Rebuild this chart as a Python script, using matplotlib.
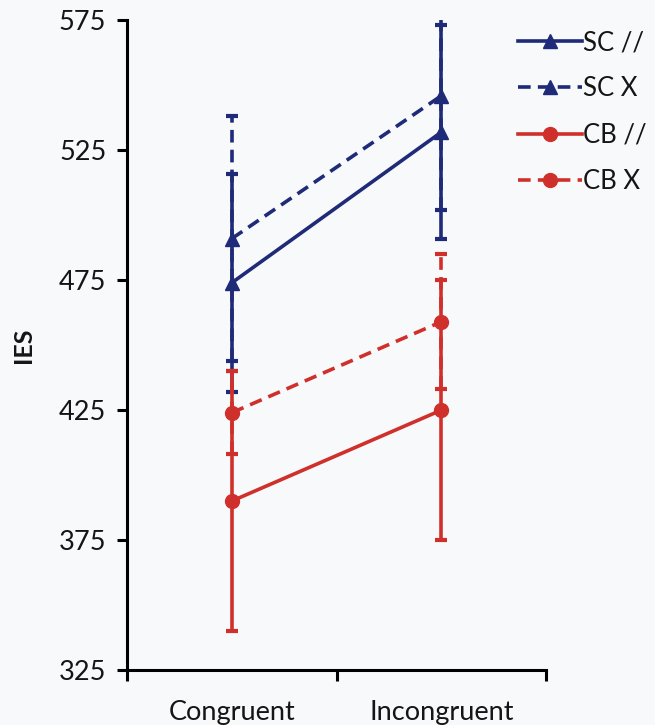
import numpy as np
import matplotlib
matplotlib.use("Agg")
import matplotlib.pyplot as plt

# IES per condition
conditions = ["Congruent", "Incongruent"]
series_names = ["SC //", "SC X", "CB //", "CB X"]
sc_par = [474, 532]
sc_x = [491, 546]
cb_par = [390, 425]
cb_x = [424, 459]
sc_par_err = [42, 41]
sc_x_err = [47, 44]
cb_par_err = [50, 50]
cb_x_err = [16, 26]

NAVY = "#1f2a78"
RED = "#d0302b"
BG = "#f7f9fa"
TXT = "#151515"
DASH = (0, (3.5, 2))

plt.rcParams["font.family"] = ["Lato", "DejaVu Sans"]

fig = plt.figure(figsize=(6.55, 7.25), dpi=100, facecolor=BG)
ax = fig.add_axes([0.194, 0.076, 0.64, 0.896], facecolor=BG)

x = np.array([0.5, 1.5])
styles = [
    (sc_par, sc_par_err, NAVY, "^", "-"),
    (sc_x, sc_x_err, NAVY, "^", DASH),
    (cb_par, cb_par_err, RED, "o", "-"),
    (cb_x, cb_x_err, RED, "o", DASH),
]
handles = []
for (vals, errs, col, mk, ls), name in zip(styles, series_names):
    line, caps, bars = ax.errorbar(
        x, vals, yerr=errs, color=col, marker=mk, markersize=10,
        linestyle=ls, linewidth=2.6, elinewidth=2.6, capsize=4, capthick=3,
        label=name,
    )
    bars[0].set_linestyle(ls)
    handles.append(line)

ax.set_xlim(0, 2)
ax.set_ylim(325, 575)
ax.set_yticks([325, 375, 425, 475, 525, 575])
ax.set_xticks([0, 1, 2])
ax.set_xticklabels([])
ax.set_xticks(x, minor=True)
ax.set_xticklabels(conditions, minor=True)
ax.tick_params(axis="x", which="minor", length=0, pad=22, labelsize=19.5, labelcolor=TXT)
ax.tick_params(axis="x", which="major", length=8, width=2.2, direction="out")
ax.tick_params(axis="y", length=7, width=2.2, labelsize=19.5, labelcolor=TXT, pad=8)
for side in ["top", "right"]:
    ax.spines[side].set_visible(False)
for side in ["left", "bottom"]:
    ax.spines[side].set_linewidth(2.2)
ax.set_ylabel("IES", fontsize=18, fontweight="bold", labelpad=17, color=TXT)

leg = fig.legend(handles, series_names, loc="upper left", bbox_to_anchor=(0.755, 0.99),
                 frameon=False, fontsize=18.5, handlelength=2.5, handletextpad=0.05,
                 labelspacing=0.82, labelcolor=TXT)

fig.savefig("out.png", dpi=100, facecolor=BG)
